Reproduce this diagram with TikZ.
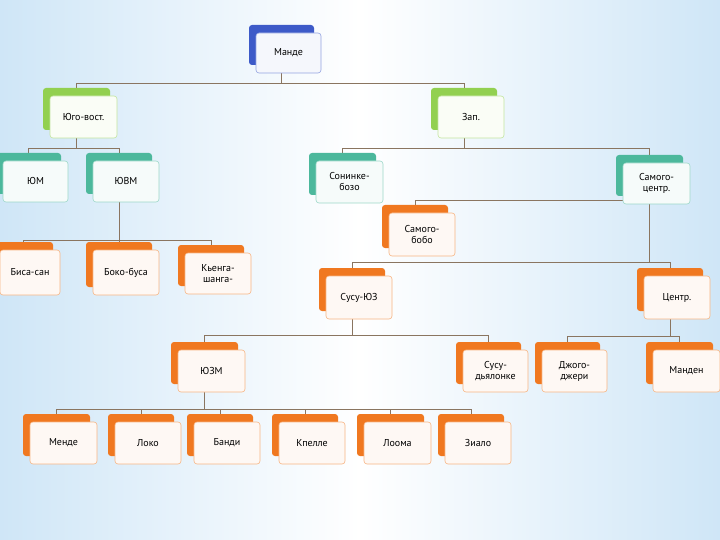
\documentclass[tikz,border=0pt]{standalone}
\usepackage{fontspec}
\setmainfont{PT Sans}
\definecolor{cblue}{HTML}{3D5AC8}
\definecolor{cgreen}{HTML}{92D050}
\definecolor{cteal}{HTML}{4CB89C}
\definecolor{corange}{HTML}{F07820}
\definecolor{cline}{HTML}{8A7560}
\definecolor{bgblue}{HTML}{CFE6F7}
\begin{document}
\begin{tikzpicture}[x=1pt,y=-1pt,
  back/.style={rounded corners=3pt, inner sep=0pt},
  front/.style={rounded corners=3pt, inner sep=1pt, align=center,
    font=\fontsize{10}{11}\selectfont, line width=0.6pt},
  conn/.style={draw=cline, line width=0.6pt}]
\useasboundingbox (0,0) rectangle (720,540);
\shade[left color=bgblue, right color=bgblue, middle color=white] (0,0) rectangle (720,540);
\newcommand\nd[7]{%
  \node[back, fill=#6, minimum width={(#4-#2)*1pt}, minimum height={(#5-#3)*1pt}] (#1) at ({(#2+#4)/2},{(#3+#5)/2}) {};}
\newcommand\fr[7]{%
  \node[front, draw=#6!55, fill=#6!5, minimum width={(#4-#2)*1pt}, minimum height={(#5-#3)*1pt}, text width={(#4-#2-4)*1pt}] (#1f) at ({(#2+#4)/2+7},{(#3+#5)/2+8}) {#7};}
\newcommand\allnodes[1]{%
#1{mande}{249}{25}{314}{65}{cblue}{Манде}
#1{ugo}{43}{88}{110}{130}{cgreen}{Юго-вост.}
#1{zap}{431}{88}{497}{130}{cgreen}{Зап.}
#1{um}{-4}{153}{61}{194}{cteal}{ЮМ}
#1{uvm}{86}{153}{152}{194}{cteal}{ЮВМ}
#1{son}{309}{153}{376}{195}{cteal}{Сонинке-\\бозо}
#1{samc}{616}{155}{683}{196}{cteal}{Самого-\\центр.}
#1{samb}{382}{205}{448}{248}{corange}{Самого-\\бобо}
#1{bisa}{-7}{242}{53}{287}{corange}{Биса-сан}
#1{boko}{86}{242}{152}{287}{corange}{Боко-буса}
#1{kya}{178}{245}{244}{286}{corange}{Кьенга-\\шанга-}
#1{susu}{319}{268}{385}{311}{corange}{Сусу-ЮЗ}
#1{centr}{637}{268}{703}{311}{corange}{Центр.}
#1{uzm}{171}{342}{238}{384}{corange}{ЮЗМ}
#1{sud}{456}{342}{521}{384}{corange}{Сусу-\\дьялонке}
#1{djo}{535}{342}{600}{384}{corange}{Джого-\\джери}
#1{mand}{646}{342}{713}{384}{corange}{Манден}
#1{mende}{23}{414}{90}{456}{corange}{Менде}
#1{loko}{108}{414}{174}{456}{corange}{Локо}
#1{bandi}{187}{414}{253}{456}{corange}{Банди}
#1{kpe}{272}{414}{338}{456}{corange}{Кпелле}
#1{looma}{357}{414}{424}{456}{corange}{Лоома}
#1{zialo}{438}{414}{504}{456}{corange}{Зиало}}
\begin{scope}[opacity=0]\allnodes{\nd}\end{scope}
\newcommand\tree[3]{%
  \draw[conn] (#1.south) -- (#1.south |- 0,#2);
  \foreach \c in {#3}{\draw[conn] (#1.south |- 0,#2) -| (\c.north);}}
\tree{mande}{83}{ugo,zap}
\tree{ugo}{148}{um,uvm}
\tree{zap}{148}{son,samc}
\tree{uvm}{240}{bisa,boko,kya}
\tree{samc}{200}{samb}
\tree{samc}{262}{susu,centr}
\tree{susu}{335}{uzm,sud}
\tree{centr}{336}{djo,mand}
\tree{uzm}{409}{mende,loko,bandi,kpe,looma,zialo}
\allnodes{\nd}
\allnodes{\fr}
\end{tikzpicture}
\end{document}
